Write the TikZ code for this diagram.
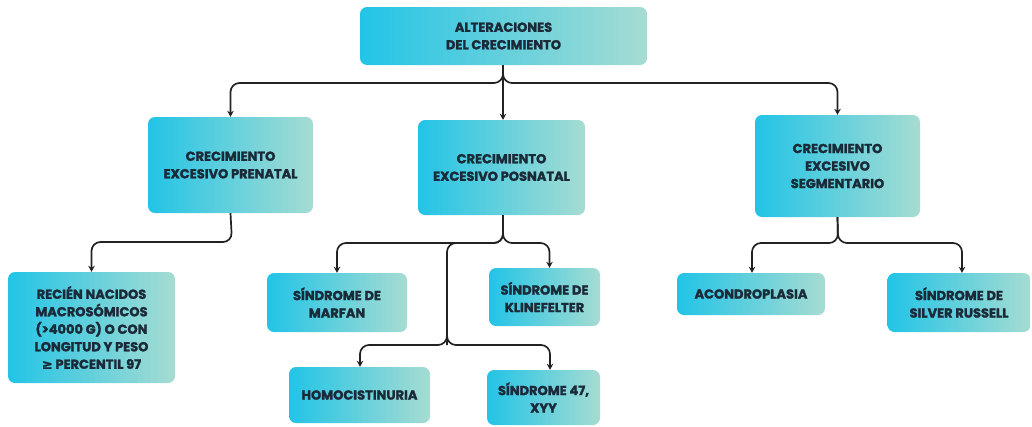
\documentclass[tikz,border=0pt]{standalone}
\usepackage{fontspec}
\setmainfont{Poppins}[BoldFeatures={FakeBold=1.8}]
\newfontfamily\symfont{DejaVu Sans}[FakeBold=2]
\usetikzlibrary{arrows.meta}
\definecolor{boxL}{HTML}{22C4E6}
\definecolor{boxR}{HTML}{A6DCD2}
\definecolor{txt}{HTML}{1B2A38}
\definecolor{ln}{HTML}{222222}
\tikzset{
  box/.style={rounded corners=7pt, left color=boxL, right color=boxR, draw=none,
    align=center, font=\fontsize{13}{17.5}\selectfont\bfseries, text=txt, inner sep=2pt},
  conn/.style={draw=ln, line width=1.7pt, rounded corners=9pt, -{Stealth[length=6pt,width=6.5pt]}},
  link/.style={draw=ln, line width=1.7pt, rounded corners=9pt}
}
\begin{document}
\begin{tikzpicture}[x=1pt,y=-1pt]
\useasboundingbox (0,0) rectangle (1032,426);
\node[box, minimum width=287pt, minimum height=58pt] (root) at (503.5,36) {ALTERACIONES\\DEL CRECIMIENTO};
\node[box, minimum width=165pt, minimum height=96pt] (pre) at (230.5,165) {CRECIMIENTO\\EXCESIVO PRENATAL};
\node[box, minimum width=167pt, minimum height=95pt] (pos) at (501.5,167.5) {CRECIMIENTO\\EXCESIVO POSNATAL};
\node[box, minimum width=165pt, minimum height=102pt] (seg) at (837.5,166) {CRECIMIENTO\\EXCESIVO\\SEGMENTARIO};
\node[box, minimum width=167pt, minimum height=111pt] (rn) at (91.5,327.5) {RECIÉN NACIDOS\\MACROSÓMICOS\\(>4000 G) O CON\\LONGITUD Y PESO\\{\symfont ≥} PERCENTIL 97};
\node[box, minimum width=140pt, minimum height=59pt] (mar) at (337,302.5) {SÍNDROME DE\\MARFAN};
\node[box, minimum width=111pt, minimum height=58pt] (kli) at (544.5,297) {SÍNDROME DE\\KLINEFELTER};
\node[box, minimum width=141pt, minimum height=56pt] (hom) at (359.5,395) {HOMOCISTINURIA};
\node[box, minimum width=113pt, minimum height=55pt] (xyy) at (543.5,397.5) {SÍNDROME 47,\\XYY};
\node[box, minimum width=148pt, minimum height=42pt] (aco) at (751,294) {ACONDROPLASIA};
\node[box, minimum width=143pt, minimum height=59pt] (sil) at (959,302.5) {SÍNDROME DE\\SILVER RUSSELL};

\coordinate (rb) at (503,83);
\coordinate (pb) at (503,243);
\coordinate (pv) at (447,345);
\draw[conn] (root.south -| rb) -- (rb) -| (pre.north);
\draw[conn] (root.south -| rb) -- (pos.north -| rb);
\draw[conn] (root.south -| rb) -- (rb) -| (seg.north);

\draw[conn] (pre.south) -- (232,242) -| (rn.north);

\draw[conn] (pos.south -| pb) -- (pb) -| (mar.north);
\draw[conn] (pos.south -| pb) -- (pb) -| ([xshift=5pt]kli.north);
\draw[link] (pos.south -| pb) -- (pb) -- (447,243) -- (pv);
\draw[conn] (447,300) -- (pv) -| ([xshift=0.5pt]hom.north);
\draw[conn] (447,300) -- (pv) -| ([xshift=6.5pt]xyy.north);

\draw[conn] (seg.south) -- (838,243) -| ([xshift=1pt]aco.north);
\draw[conn] (seg.south) -- (838,243) -| ([xshift=3pt]sil.north);
\end{tikzpicture}
\end{document}
